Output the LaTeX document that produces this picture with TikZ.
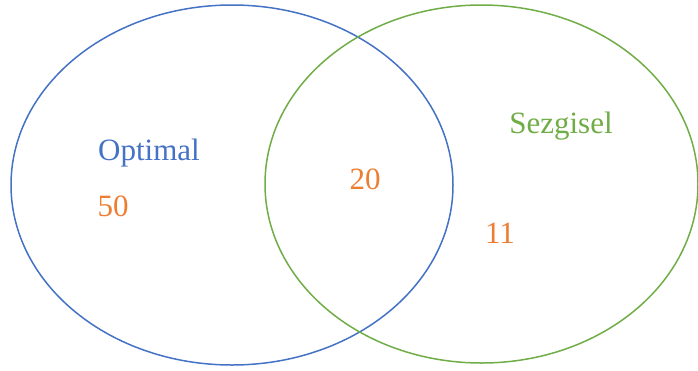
\documentclass[tikz,border=0pt]{standalone}
\usepackage{fontspec}
\setmainfont{Liberation Serif}
\definecolor{oblue}{HTML}{4472C4}
\definecolor{ogreen}{HTML}{70AD47}
\definecolor{oorange}{HTML}{ED7D31}
\tikzset{setring/.style={draw, line width=1.5pt},
  lbl/.style={font=\fontsize{31}{36}\selectfont, inner sep=0pt}}
\begin{document}
\begin{tikzpicture}[x=1pt,y=-1pt]
\useasboundingbox (0,0) rectangle (698,370);
\draw[setring, oblue] (232,185) ellipse [x radius=221, y radius=180];
\draw[setring, ogreen] (481.5,184) ellipse [x radius=216.5, y radius=179];
\node[lbl, text=oblue] (opt) at (149,153) {Optimal};
\node[lbl, text=oorange] (n50) at (113,206) {50};
\node[lbl, text=oorange] (n20) at (365,179) {20};
\node[lbl, text=ogreen] (sez) at (561,126) {Sezgisel};
\node[lbl, text=oorange] (n11) at (500,233) {11};
\end{tikzpicture}
\end{document}
